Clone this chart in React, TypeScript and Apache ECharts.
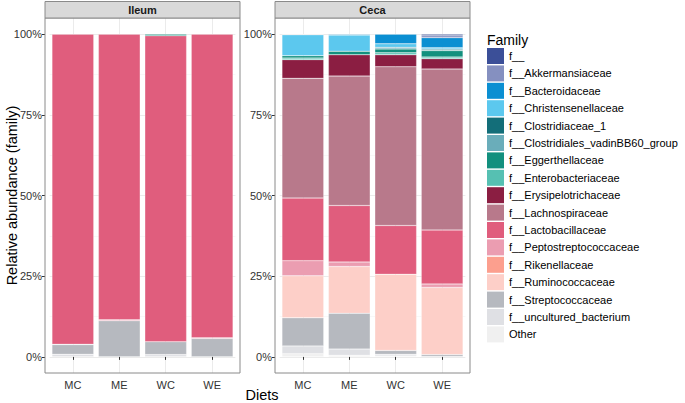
import React, { useEffect, useRef } from "react";
import * as echarts from "echarts";

const diets = ["MC", "ME", "WC", "WE"];
const panels = ["Ileum", "Ceca"];
const yTicks = [0, 25, 50, 75, 100];
const yMinor = [12.5, 37.5, 62.5, 87.5];

const families = [
  "f__",
  "f__Akkermansiaceae",
  "f__Bacteroidaceae",
  "f__Christensenellaceae",
  "f__Clostridiaceae_1",
  "f__Clostridiales_vadinBB60_group",
  "f__Eggerthellaceae",
  "f__Enterobacteriaceae",
  "f__Erysipelotrichaceae",
  "f__Lachnospiraceae",
  "f__Lactobacillaceae",
  "f__Peptostreptococcaceae",
  "f__Rikenellaceae",
  "f__Ruminococcaceae",
  "f__Streptococcaceae",
  "f__uncultured_bacterium",
  "Other",
];

const familyColors = [
  "#3b4f98",
  "#8590c0",
  "#0b8fd2",
  "#5cc8ee",
  "#136e79",
  "#6aadba",
  "#12907e",
  "#56c0b2",
  "#8b1e42",
  "#b8798b",
  "#e05d7d",
  "#eb9db1",
  "#fc9f8e",
  "#fdcfc8",
  "#b6b9bf",
  "#dfe0e4",
  "#f0f0f0",
];

// values (%) per family (same order as families), per diet MC, ME, WC, WE
const ileumValues = [
  [0, 0, 0, 0],
  [0, 0, 0, 0],
  [0, 0, 0, 0],
  [0, 0, 0, 0],
  [0, 0, 0, 0],
  [0, 0, 0, 0],
  [0, 0, 0.5, 0],
  [0, 0, 0, 0],
  [0, 0, 0, 0],
  [0, 0, 0, 0],
  [96.1, 88.5, 94.8, 94.1],
  [0.1, 0.3, 0, 0.2],
  [0, 0, 0, 0],
  [0, 0, 0, 0],
  [3.0, 11.2, 4.0, 5.7],
  [0.8, 0, 0.7, 0],
  [0, 0, 0, 0],
];

const cecaValues = [
  [0, 0, 0, 0.5],
  [0.2, 0, 0, 0.6],
  [0, 0.3, 3.0, 3.1],
  [6.5, 5.0, 1.1, 0.4],
  [0, 0, 0, 0],
  [0, 0, 0.5, 0.5],
  [0.7, 1.1, 1.2, 2.0],
  [0.5, 0, 0.6, 0.5],
  [5.8, 6.6, 3.7, 3.2],
  [37.1, 40.1, 49.2, 49.9],
  [19.4, 17.5, 15.1, 16.7],
  [4.7, 1.4, 0, 1.1],
  [0, 0, 0, 0],
  [13.0, 14.5, 23.6, 20.8],
  [8.7, 11.1, 1.2, 0.6],
  [2.4, 1.9, 0.5, 0.1],
  [1.0, 0.5, 0.3, 0],
];

const FONT = "'Liberation Sans', Arial, Helvetica, sans-serif";

export default function App() {
  const ref = useRef<HTMLDivElement>(null);

  useEffect(() => {
    if (!ref.current) return;
    const chart = echarts.init(ref.current, null, { renderer: "svg" });

    const panelLeft = [45, 275];
    const panelWidth = 195;
    const panelTop = 18;
    const panelHeight = 355;
    const band = panelWidth / 4.2;
    const inset = band * 0.1;

    const grids = panelLeft.map((l) => ({
      left: l + inset,
      width: band * 4,
      top: panelTop,
      height: panelHeight,
      containLabel: false,
    }));

    const xAxes = panelLeft.map((_, i) => ({
      type: "category",
      gridIndex: i,
      data: diets,
      position: "bottom",
      axisLine: { show: false },
      axisTick: { show: true, alignWithLabel: true, length: 3, lineStyle: { color: "#333" } },
      axisLabel: { color: "#333", fontSize: 11, fontFamily: FONT, margin: 6 },
      splitLine: { show: false },
    }));

    const yAxes = panelLeft.map((_, i) => ({
      type: "value",
      gridIndex: i,
      min: -5,
      max: 105,
      offset: inset,
      axisLine: { show: false },
      axisTick: { show: true, length: 3, customValues: yTicks, lineStyle: { color: "#333" } },
      axisLabel: {
        customValues: yTicks,
        color: "#333",
        fontSize: 11,
        fontFamily: FONT,
        margin: 3,
        formatter: (v: number) => `${v}%`,
      },
      splitLine: { show: false },
    }));

    const series: any[] = [];
    [ileumValues, cecaValues].forEach((vals, p) => {
      for (let k = families.length - 1; k >= 0; k--) {
        const s: any = {
          type: "bar",
          name: families[k],
          stack: "panel" + p,
          xAxisIndex: p,
          yAxisIndex: p,
          barCategoryGap: "10%",
          data: vals[k].map((v) => (v === 0 ? null : v)),
          itemStyle: {
            color: familyColors[k],
            borderColor: "rgba(255,255,255,0.45)",
            borderWidth: 0.5,
          },
          emphasis: { disabled: true },
        };
        if (k === families.length - 1) {
          s.markLine = {
            silent: true,
            z: 0,
            symbol: "none",
            label: { show: false },
            lineStyle: { color: "#ebebeb", width: 1, type: "solid" },
            data: [
              ...yTicks.map((t) => ({ yAxis: t })),
              ...yMinor.map((t) => ({ yAxis: t, lineStyle: { color: "#f4f4f4", width: 0.6, type: "solid" } })),
              ...diets.map((d) => ({ xAxis: d })),
            ],
          };
        }
        series.push(s);
      }
    });

    const graphics: any[] = [];
    panelLeft.forEach((l, i) => {
      graphics.push({
        type: "rect",
        shape: { x: l, y: panelTop, width: panelWidth, height: panelHeight },
        style: { fill: "none", stroke: "#8a8a8a", lineWidth: 1 },
        z: 10,
      });
      graphics.push({
        type: "rect",
        shape: { x: l, y: 1.5, width: panelWidth, height: panelTop - 1.5 },
        style: { fill: "#d9d9d9", stroke: "#8a8a8a", lineWidth: 1 },
        z: 10,
      });
      graphics.push({
        type: "text",
        x: l + panelWidth / 2,
        y: (1.5 + panelTop) / 2 + 0.5,
        style: {
          text: panels[i],
          fontSize: 11,
          fontWeight: "bold",
          fontFamily: FONT,
          fill: "#1a1a1a",
          align: "center",
          verticalAlign: "middle",
        },
        z: 11,
      });
    });
    graphics.push({
      type: "text",
      x: 12,
      y: panelTop + panelHeight / 2,
      rotation: Math.PI / 2,
      style: {
        text: "Relative abundance (family)",
        fontSize: 14.5,
        fontFamily: FONT,
        fill: "#000",
        align: "center",
        verticalAlign: "middle",
      },
    });
    graphics.push({
      type: "text",
      x: 262,
      y: 395,
      style: {
        text: "Diets",
        fontSize: 14.5,
        fontFamily: FONT,
        fill: "#000",
        align: "center",
        verticalAlign: "middle",
      },
    });
    graphics.push({
      type: "text",
      x: 487,
      y: 40,
      style: {
        text: "Family",
        fontSize: 14,
        fontFamily: FONT,
        fill: "#000",
        align: "left",
        verticalAlign: "middle",
      },
    });

    chart.setOption({
      animation: false,
      grid: grids,
      xAxis: xAxes,
      yAxis: yAxes,
      series,
      legend: {
        data: families,
        orient: "vertical",
        left: 487,
        top: 48,
        itemWidth: 17,
        itemHeight: 16,
        itemGap: 1.4,
        icon: "rect",
        selectedMode: false,
        padding: 0,
        textStyle: { fontSize: 11, fontFamily: FONT, color: "#000" },
        itemStyle: { borderWidth: 0 },
      },
      graphic: graphics,
    });

    return () => chart.dispose();
  }, []);

  return (
    <div
      ref={ref}
      style={{ position: "absolute", left: 0, top: 0, width: 685, height: 403 }}
    />
  );
}
